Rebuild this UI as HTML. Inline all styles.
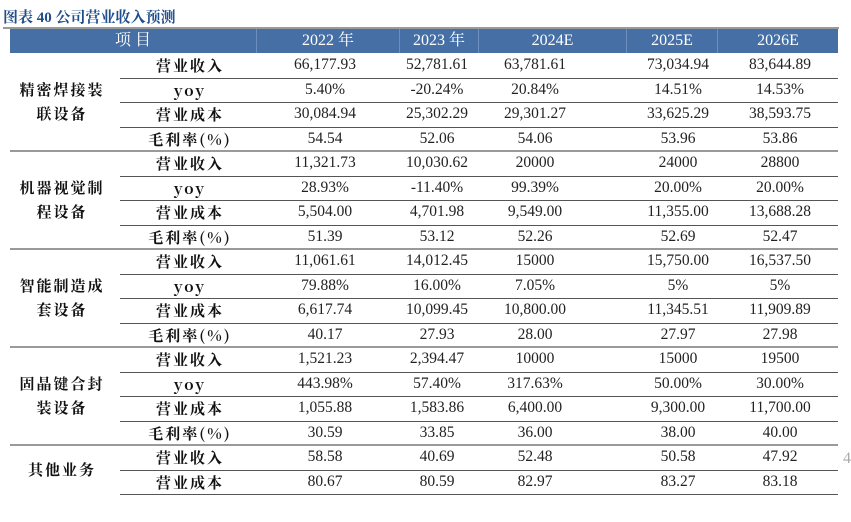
<!DOCTYPE html>
<html><head><meta charset="utf-8">
<style>
body{margin:0;background:#fff;width:851px;height:522px;position:relative;overflow:hidden;font-family:"Liberation Serif","Noto Serif CJK SC",serif;}
.a{position:absolute;white-space:nowrap;}
.t{font-family:"Liberation Serif","Noto Serif CJK SC",serif;color:#1f4e8c;font-weight:bold;font-size:15px;left:3px;top:6px;}
.hdr{position:absolute;top:29px;height:24px;background:#4670a5;color:#fff;font-size:16px;line-height:24px;text-align:center;border-right:1px solid #6d8fbd;box-sizing:border-box;}
.cell{position:absolute;font-size:15.5px;color:#222;text-align:center;transform:translateX(-50%);}
.lab{position:absolute;font-family:"Noto Serif CJK SC",serif;font-weight:bold;font-size:15px;color:#111;transform:translateX(-50%);text-align:center;letter-spacing:2px;}
.grp{position:absolute;font-family:"Noto Serif CJK SC",serif;font-weight:bold;font-size:15px;color:#111;text-align:center;width:110px;left:7px;line-height:24px;letter-spacing:2px;}
.ln{position:absolute;height:1px;background:#555;}
.gl{position:absolute;height:2px;background:#9a9a9a;}
</style></head>
<body>
<div class="a t">图表 40 公司营业收入预测</div>
<div class="gl" style="left:3px;top:27px;width:836px;"></div>
<div class="hdr" style="left:10px;width:247px;">项 目</div>
<div class="hdr" style="left:257px;width:143px;">2022 年</div>
<div class="hdr" style="left:400px;width:79px;">2023 年</div>
<div class="hdr" style="left:479px;width:148px;">2024E</div>
<div class="hdr" style="left:627px;width:91px;">2025E</div>
<div class="hdr" style="left:718px;width:120px;border-right:none;">2026E</div>
<div class="a" style="left:843px;top:450px;font-size:16px;color:#aaa;">4</div>
<div id="tb"></div>
<script>
const groups=["精密焊接装<br>联设备","机器视觉制<br>程设备","智能制造成<br>套设备","固晶键合封<br>装设备","其他业务"];
const rowLabels=[
["营业收入","yoy","营业成本","毛利率(%)"],
["营业收入","yoy","营业成本","毛利率(%)"],
["营业收入","yoy","营业成本","毛利率(%)"],
["营业收入","yoy","营业成本","毛利率(%)"],
["营业收入","营业成本"]];
const values=[
[["66,177.93","52,781.61","63,781.61","73,034.94","83,644.89"],["5.40%","-20.24%","20.84%","14.51%","14.53%"],["30,084.94","25,302.29","29,301.27","33,625.29","38,593.75"],["54.54","52.06","54.06","53.96","53.86"]],
[["11,321.73","10,030.62","20000","24000","28800"],["28.93%","-11.40%","99.39%","20.00%","20.00%"],["5,504.00","4,701.98","9,549.00","11,355.00","13,688.28"],["51.39","53.12","52.26","52.69","52.47"]],
[["11,061.61","14,012.45","15000","15,750.00","16,537.50"],["79.88%","16.00%","7.05%","5%","5%"],["6,617.74","10,099.45","10,800.00","11,345.51","11,909.89"],["40.17","27.93","28.00","27.97","27.98"]],
[["1,521.23","2,394.47","10000","15000","19500"],["443.98%","57.40%","317.63%","50.00%","30.00%"],["1,055.88","1,583.86","6,400.00","9,300.00","11,700.00"],["30.59","33.85","36.00","38.00","40.00"]],
[["58.58","40.69","52.48","50.58","47.92"],["80.67","80.59","82.97","83.27","83.18"]]];
const colX=[325,437,535,678,780];
const tb=document.getElementById('tb');
const RH=24.5;let r=0;
groups.forEach((g,gi)=>{
  const n=rowLabels[gi].length;const y0=53+r*RH;
  const gd=document.createElement('div');gd.className='grp';
  
  
  gd.innerHTML=g;
  const lines=g.split('<br>').length;
  gd.style.top=(y0+n*RH/2-lines*12)+'px';tb.appendChild(gd);
  rowLabels[gi].forEach((lab,li)=>{
    const y=53+r*RH;
    const l=document.createElement('div');l.className='lab';
    
    
    l.textContent=lab;l.style.left='190px';l.style.top=(y+2)+'px';tb.appendChild(l);
    values[gi][li].forEach((v,ci)=>{
      const c=document.createElement('div');c.className='cell';
      
      
      c.textContent=v;c.style.left=colX[ci]+'px';c.style.top=(y+3)+'px';tb.appendChild(c);
    });
    r++;
    const ln=document.createElement('div');
    const last=li===n-1;
    ln.className=last?'gl':'ln';
    
    
    const yy=53+r*RH;
    if(last&&gi<groups.length-1){ln.style.left='10px';ln.style.width='828px';ln.style.top=(yy-1)+'px';}
    else{ln.className='ln';ln.style.left='120px';ln.style.width='718px';ln.style.top=yy+'px';}
    tb.appendChild(ln);
  });
});
</script>
</body></html>
